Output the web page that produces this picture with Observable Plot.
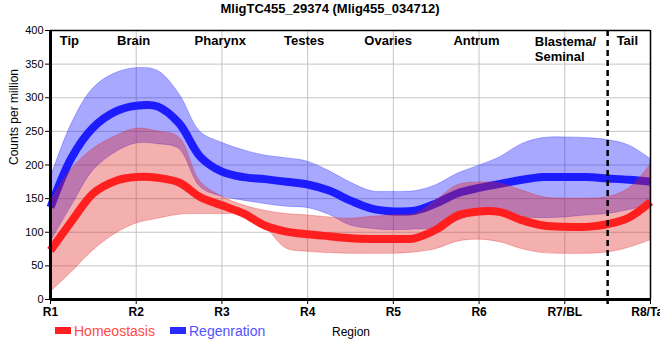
<!DOCTYPE html>
<html>
<head>
<meta charset="utf-8">
<script src="https://cdn.jsdelivr.net/npm/d3@7"></script>
<script src="https://cdn.jsdelivr.net/npm/@observablehq/plot@0.6"></script>
<style>
  html, body { margin: 0; padding: 0; background: white; }
  #wrap { position: relative; width: 660px; height: 360px; overflow: hidden; font-family: "Liberation Sans", Arial, sans-serif; }
  #title { position: absolute; left: 0; top: 2px; width: 660px; text-align: center; font-size: 13px; font-weight: bold; line-height: 1; color: #000; }
  .leg { position: absolute; line-height: 1; white-space: nowrap; }
  .sw { position: absolute; height: 7px; width: 16px; }
</style>
</head>
<body>
<div id="wrap">
  <div id="chart"></div>
  <div id="title"></div>
  <div id="legend"></div>
</div>
<script>
// ---- data ----
const titleText = "MligTC455_29374 (Mlig455_034712)";
const positions = [1,1.25,1.5,1.75,2,2.25,2.5,2.75,3,3.25,3.5,3.75,4,4.25,4.5,4.75,5,5.25,5.5,5.75,6,6.25,6.5,6.75,7,7.25,7.5,7.75,8];
const homeLine = [73,117,158,176,182,181,174,152,140,128,110,101,97,94,91,90,90,91,104,125,131,130,118,110,108,108,112,122,145];
const homeLow  = [11,41,73,97,113,120,126,127,127,126,108,76,71,69,68,68,68,70,75,86,89,85,75,69,68,68,70,77,88];
const homeHigh = [145,194,224,242,254,250,241,175,153,140,132,127,125,122,120,123,125,127,147,170,174,172,162,152,150,150,152,165,200];
const regLine  = [137,212,256,279,288,287,262,212,190,182,179,175,171,162,147,135,131,132,143,158,166,172,178,182,182,182,180,178,175];
const regLow   = [85,140,192,218,232,231,224,167,153,147,142,138,136,126,110,105,103,104,106,117,128,126,122,121,122,125,127,133,140];
const regHigh  = [180,262,314,336,344,340,306,249,233,222,214,210,205,191,174,161,160,161,170,187,199,212,231,240,241,240,237,229,209];
const xTicks = [1,2,3,4,5,6,7,8];
const tickLabels = ["R1","R2","R3","R4","R5","R6","R7/BL","R8/Tail"];
const yTicks = [0,50,100,150,200,250,300,350,400];
const regionNames = ["Tip","Brain","Pharynx","Testes","Ovaries","Antrum","Blastema/\nSeminal","Tail"];
const regionLabelAt = [1.22,1.97,2.98,3.96,4.94,5.97,6.65,7.73];
const tailBoundary = [7.5];
const seriesNames = ["Homeostasis","Regenration"];
const yLabel = "Counts per million";
const xLabel = "Region";

// ---- build table ----
const rows = positions.map((p, i) => ({
  p, hm: homeLine[i], hl: homeLow[i], hh: homeHigh[i],
  rm: regLine[i], rl: regLow[i], rh: regHigh[i]
}));
const labels = regionNames.map((name, i) => ({name, at: regionLabelAt[i]}));
const centered = labels.filter(d => !d.name.includes("\n"));
const leftAligned = labels.filter(d => d.name.includes("\n"));

const RED = "#ff1f1f", BLUE = "#1c1cff";
const curve = "catmull-rom";

const chart = Plot.plot({
  width: 660, height: 360,
  marginTop: 30, marginBottom: 61, marginLeft: 50, marginRight: 10,
  x: {domain: [1, 8]},
  y: {domain: [0, 400]},
  style: {fontFamily: "'Liberation Sans', Arial, sans-serif", background: "white", color: "black"},
  marks: [
    Plot.gridX(xTicks, {stroke: "#c4c4c4", strokeOpacity: 1, strokeWidth: 1}),
    Plot.gridY(yTicks, {stroke: "#c4c4c4", strokeOpacity: 1, strokeWidth: 1}),
    Plot.areaY(rows, {x: "p", y1: "rl", y2: "rh", fill: "#0000ff", fillOpacity: 0.34, stroke: "#0000ff", strokeOpacity: 0.25, strokeWidth: 1, curve}),
    Plot.lineY(rows, {x: "p", y: "rm", stroke: BLUE, strokeWidth: 8, strokeLinecap: "butt", curve}),
    Plot.areaY(rows, {x: "p", y1: "hl", y2: "hh", fill: "#e02020", fillOpacity: 0.36, stroke: "#e02020", strokeOpacity: 0.3, strokeWidth: 1, curve}),
    Plot.lineY(rows, {x: "p", y: "hm", stroke: RED, strokeWidth: 8, strokeLinecap: "butt", curve}),
    Plot.ruleX(tailBoundary, {stroke: "black", strokeWidth: 2.5, strokeDasharray: "6,4", insetBottom: -5}),
    Plot.ruleY([400], {stroke: "black", strokeWidth: 1.5}),
    Plot.ruleX([8], {stroke: "black", strokeWidth: 1.5}),
    Plot.ruleX([1], {stroke: "black", strokeWidth: 3}),
    Plot.ruleY([0], {stroke: "black", strokeWidth: 3}),
    Plot.axisY(yTicks, {tickSize: 5, tickPadding: 2, fontSize: 11, label: null}),
    Plot.axisX(xTicks, {tickSize: 5, tickPadding: 3, fontSize: 12, fontWeight: "bold", label: null, tickFormat: d => tickLabels[d - 1]}),
    Plot.text(centered, {x: "at", text: "name", frameAnchor: "top", lineAnchor: "top", dy: 5, fontSize: 13, fontWeight: "bold", fill: "black"}),
    Plot.text(leftAligned, {x: "at", text: "name", frameAnchor: "top", lineAnchor: "top", dy: 5, fontSize: 13, fontWeight: "bold", textAnchor: "start", lineHeight: 1.15, fill: "black"}),
    Plot.text([yLabel], {frameAnchor: "left", dx: -36, rotate: -90, fontSize: 12, fill: "black"})
  ]
});
document.getElementById("chart").appendChild(chart);
document.getElementById("title").textContent = titleText;

// legend + x label
const leg = document.getElementById("legend");
function add(html) { leg.insertAdjacentHTML("beforeend", html); }
add(`<div class="sw" style="left:55px;top:327px;background:${RED}"></div>`);
add(`<div class="leg" style="left:74px;top:324px;font-size:14px;color:#ff4848">${seriesNames[0]}</div>`);
add(`<div class="sw" style="left:170px;top:327px;background:#2a2aff"></div>`);
add(`<div class="leg" style="left:189px;top:324px;font-size:14px;color:#5252ff">${seriesNames[1]}</div>`);
add(`<div class="leg" style="left:332px;top:326px;font-size:12px;color:#000">${xLabel}</div>`);
</script>
</body>
</html>
